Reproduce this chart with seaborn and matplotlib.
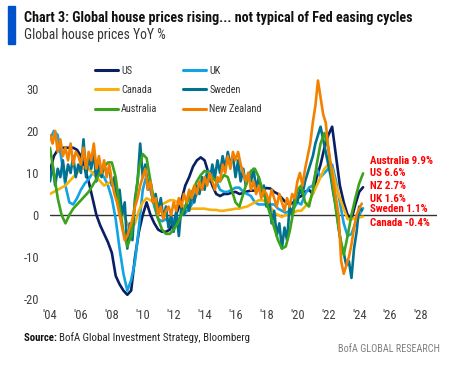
import numpy as np
import pandas as pd
import matplotlib
matplotlib.use("Agg")
import matplotlib.pyplot as plt
import matplotlib.font_manager as fm
import seaborn as sns
from matplotlib.lines import Line2D

# ---------------- data (YoY %) ----------------
q_start = 2004.0           # quarterly series start
us = [10.5, 14, 15.5, 16,
      16, 16, 16, 15.5,
      14, 11, 8, 4,
      0, -2.5, -4.5, -6.5,
      -9, -14.5, -16.5, -18,
      -19, -18, -10, -4,
      0, 3, 0, -2,
      -3.5, -4, -4, -3.5,
      -1.5, 1, 3.5, 7,
      9, 11.5, 13, 13.7,
      13, 10, 7, 5,
      4.5, 5, 5, 5.3,
      5.5, 5, 5.2, 5.6,
      5.8, 5.8, 6, 6.2,
      6.4, 6.3, 5.5, 5,
      4, 3, 2.5, 3,
      4, 4.5, 5.5, 6,
      5, 9, 12, 16,
      19, 21, 14, 7,
      3, 0, -1, 2.5,
      5.5, 6.6]
uk = [18, 20, 19, 13,
      7, 3, 2.5, 4,
      6, 7.5, 8.5, 10,
      10.5, 10, 9, 7,
      4, -1, -8, -14,
      -18, -15.5, -11, -3,
      6, 9.5, 6, 2,
      -1, -1.5, -1, -2,
      -1, -1.5, 0, 0.5,
      1.5, 3, 5, 7,
      8.5, 10.5, 10, 8,
      6, 5.5, 5.5, 6,
      6.5, 6.5, 5.5, 5,
      4.5, 3, 2.5, 2.5,
      2.5, 2.5, 2.5, 1.5,
      1, 0.5, 1, 1.5,
      3, 2.5, 5, 6.5,
      7, 11, 9, 10,
      11, 12, 8, 3,
      -2, -5, -4.5, -2,
      0, 1.6]
canada = [5, 5.5, 6, 6.5,
          7, 8, 9, 10,
          11, 11.5, 11, 10,
          9, 8, 7, 7.5,
          8, 6, 3, 0,
          -2, -3.5, -2, 1,
          3, 4, 3.5, 3,
          2.5, 2.5, 3, 3.5,
          3.5, 3, 2.5, 2,
          1.5, 1.5, 1.5, 1.5,
          1.5, 1.3, 1.2, 1.2,
          1, 1, 1.2, 1.3,
          1.5, 1.5, 1.8, 2,
          2.5, 3, 3.5, 3.5,
          3, 2, 0.5, 0,
          -0.5, 0, 0, 0.5,
          1, 1, 2, 3,
          5, 7, 9, 11,
          12, 11, 7, 4,
          1.5, -1, -1, -0.8,
          -0.6, -0.4]
australia = [16, 10, 4, 0,
             -2, 0, 1.5, 2.5,
             3.5, 4.5, 5.5, 7,
             8.5, 10, 11.5, 12.5,
             12.5, 9, 2, -4,
             -7.5, -5, 3, 11,
             14.5, 13.5, 8, 3,
             -1, -3.5, -4.5, -4.5,
             -3.5, -2, 0, 2,
             4, 6, 8, 9.5,
             10.5, 10, 9, 8,
             8, 9.5, 9, 6,
             3, 2, 5, 8,
             10.5, 11, 9, 6,
             3, 0, -3, -6,
             -8, -7.5, -4, 1,
             6, 7, 3, 2,
             6, 12, 17, 19.5,
             16, 8, 1, -5,
             -9.5, -5, 0, 4,
             7.5, 9.9]

b_start = 2004.0           # bi-monthly series start
sweden = [8, 12, 7, 11, 9, 13,
          8, 12, 10, 14, 9, 12,
          10, 18, 9, 14, 11, 15,
          8, 13, 9, 12, 10, 11,
          7, 9, 4, 6, 0, 3,
          -8, -2, -6, 4, 8, 17,
          9, 12, 6, 8, 3, 5,
          1, 4, -1, 2, -3, 0,
          -4, 1, -5, 2, 0, 3,
          1, 5, 3, 7, 5, 9,
          6, 10, 8, 12, 9, 13,
          10, 14, 11, 15, 12, 14,
          9, 13, 8, 11, 7, 10,
          8, 11, 6, 9, 5, 7,
          2, 4, -2, 1, -5, -2,
          -8, -3, -6, 2, 0, 4,
          3, 6, 5, 8, 10, 12,
          14, 17, 19, 21, 18, 15,
          12, 9, 5, 2, -3, -7,
          -9, -12, -11, -15, -8, -4,
          2, 1.1]
new_zealand = [19, 17, 20, 15, 18, 14,
               16, 13, 17, 12, 15, 14,
               12, 16, 11, 15, 13, 17,
               11, 14, 10, 13, 9, 12,
               8, 5, 3, 0, -3, -6,
               -5, -3, -1, 2, 4, 7,
               9, 11, 6, 8, 3, 4,
               0, 2, -1, 1, 2, 0,
               3, 1, 4, 2, 5, 3,
               6, 4, 7, 5, 8, 6,
               9, 7, 10, 8, 6, 9,
               8, 12, 10, 14, 11, 15,
               13, 15, 12, 10, 8, 10,
               6, 8, 5, 7, 4, 6,
               5, 3, 6, 4, 2, 5,
               3, 1, 4, 2, 5, 4,
               8, 10, 7, 11, 14, 17,
               22, 26, 32, 28, 24, 22,
               16, 12, 8, 4, 0, -11,
               -14, -12, -10, -7, -3, 0,
               1.5, 2.7]

end_labels = ["Australia 9.9%", "US 6.6%", "NZ 2.7%", "UK 1.6%", "Sweden 1.1%", "Canada -0.4%"]
end_label_y = [12.9, 10.0, 6.9, 3.8, 1.3, -1.9]

x_ticks = list(range(2004, 2029, 2))
x_tick_labels = ["'" + str(y)[2:] for y in x_ticks]
y_ticks = [-20, -10, 0, 10, 20, 30]

# ---------------- build long table ----------------
frames = []
for name, vals in [("US", us), ("UK", uk), ("Canada", canada), ("Australia", australia)]:
    frames.append(pd.DataFrame({"year": q_start + np.arange(len(vals)) / 4.0,
                                "value": vals, "country": name}))
for name, vals in [("Sweden", sweden), ("New Zealand", new_zealand)]:
    frames.append(pd.DataFrame({"year": b_start + np.arange(len(vals)) / 6.0,
                                "value": vals, "country": name}))
df = pd.concat(frames, ignore_index=True)

palette = {"US": "#0a1f63", "UK": "#12a3e3", "Canada": "#f8b10b",
           "Sweden": "#00718f", "Australia": "#3ba41b", "New Zealand": "#f28100"}
draw_order = ["US", "UK", "Canada", "Sweden", "Australia", "New Zealand"]

# ---------------- fonts ----------------
sns.set_theme(style="white")
names = sorted({f.name for f in fm.fontManager.ttflist})
fam = []
for pref in ["Roboto Condensed", "Open Sans Condensed", "Liberation Sans Narrow", "Noto Sans Condensed"]:
    if pref in names:
        fam.append(pref)
fam += ["Liberation Sans", "DejaVu Sans"]
plt.rcParams["font.family"] = fam
plt.rcParams["axes.unicode_minus"] = False

fig = plt.figure(figsize=(4.73, 3.72), dpi=100)
renderer = fig.canvas.get_renderer()


def fit_size(s, width_px, weight="normal", base=10.0):
    t = fig.text(0, 0, s, fontsize=base, fontweight=weight)
    w = t.get_window_extent(renderer).width
    t.remove()
    return base * width_px / w


def px(x, y):
    return x / 473, 1 - y / 372


ax = fig.add_axes([50 / 473, 0.185, 386.5 / 473, 0.655])

ax.axhline(0, color="#333333", lw=1.0, zorder=1)
sns.lineplot(data=df, x="year", y="value", hue="country", hue_order=draw_order,
             palette=palette, estimator=None, lw=1.9, legend=False, ax=ax, zorder=3)

ax.set_xlim(2004, 2029)
ax.set_ylim(-21, 37)
ax.set_xticks(x_ticks)
ax.set_xticklabels(x_tick_labels)
ax.set_yticks(y_ticks)
ax.set_xlabel("")
ax.set_ylabel("")
for s in ax.spines.values():
    s.set_visible(False)
tick_fs = min(9.2, fit_size("'04", 14.5))
ax.tick_params(axis="both", length=0, labelsize=tick_fs, colors="#404040", pad=4)
ax.tick_params(axis="y", pad=8)

# legend (row-wise order US, UK / Canada, Sweden / Australia, New Zealand)
leg_fs = fit_size("Australia", 36)
fs_px = leg_fs * 100 / 72
leg_order = ["US", "Canada", "Australia", "UK", "Sweden", "New Zealand"]
handles = [Line2D([0], [0], color=palette[c], lw=2.2) for c in leg_order]
text_w = 36
col_gap = 183 - 95 - (23 + 3 + text_w)
fig.legend(handles, leg_order, loc="upper left", bbox_to_anchor=px(95, 65.5),
           ncol=2, frameon=False, fontsize=leg_fs, handlelength=23 / fs_px,
           handletextpad=3 / fs_px, columnspacing=col_gap / fs_px,
           labelspacing=(18.5 - 0.88 * fs_px) / fs_px, borderpad=0, borderaxespad=0,
           labelcolor="#333333")

# end labels
lab_fs = fit_size("Australia 9.9%", 63, weight="bold")
for txt, yv in zip(end_labels, end_label_y):
    ax.text(2024.7, yv, txt, color="#ff0000", fontsize=lab_fs, fontweight="bold",
            va="center", ha="left")

# header
fig.patches.append(plt.Rectangle(px(8, 44), 7 / 473, 38 / 372,
                                 transform=fig.transFigure, color="#0052cc"))
title = "Chart 3: Global house prices rising... not typical of Fed easing cycles"
fig.text(*px(24, 18), title, fontsize=fit_size(title, 391, "bold"), fontweight="bold",
         color="#111111", va="center", ha="left")
sub = "Global house prices YoY %"
fig.text(*px(24, 35), sub, fontsize=fit_size(sub, 141), color="#333333",
         va="center", ha="left")

# footer
src_b = "Source: "
src_r = "BofA Global Investment Strategy, Bloomberg"
wb = fit_size(src_b, 100, "bold")
wr = fit_size(src_r, 100)
src_fs = 225 / (100 / wb + 100 / wr)
t1 = fig.text(*px(24, 338), src_b, fontsize=src_fs, fontweight="bold",
              color="#111111", va="center", ha="left")
bw = t1.get_window_extent(renderer).width
fig.text((24 + bw) / 473, 1 - 338 / 372, src_r, fontsize=src_fs,
         color="#222222", va="center", ha="left")
brand = "BofA GLOBAL RESEARCH"
fig.text(*px(440, 349), brand, fontsize=fit_size(brand, 103),
         color="#808080", va="center", ha="right")

fig.savefig("out.png", dpi=100)
